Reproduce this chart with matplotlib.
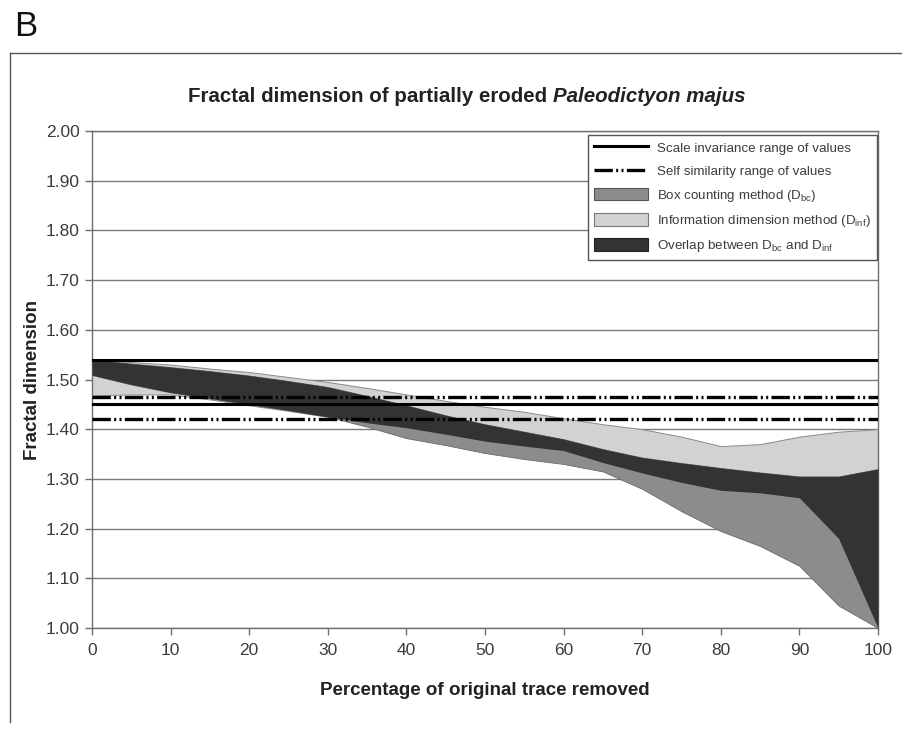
import numpy as np
import matplotlib
matplotlib.use("Agg")
import matplotlib.pyplot as plt
from matplotlib.lines import Line2D
from matplotlib.patches import Patch

# ---------------- data ----------------
pct = [0, 5, 10, 15, 20, 25, 30, 35, 40, 45, 50, 55, 60, 65, 70, 75, 80, 85, 90, 95, 100]

info_upper = [1.540, 1.535, 1.530, 1.522, 1.515, 1.505, 1.495, 1.483, 1.470, 1.457, 1.445,
              1.435, 1.422, 1.410, 1.400, 1.385, 1.366, 1.370, 1.385, 1.395, 1.400]
info_lower = [1.468, 1.470, 1.470, 1.460, 1.448, 1.437, 1.425, 1.413, 1.403, 1.390, 1.376,
              1.366, 1.357, 1.333, 1.312, 1.293, 1.277, 1.272, 1.262, 1.180, 1.000]
box_upper = [1.540, 1.532, 1.525, 1.517, 1.508, 1.497, 1.485, 1.467, 1.448, 1.428, 1.410,
             1.395, 1.380, 1.360, 1.343, 1.332, 1.322, 1.313, 1.305, 1.305, 1.320]
box_lower = [1.509, 1.490, 1.474, 1.462, 1.450, 1.438, 1.425, 1.405, 1.382, 1.368, 1.352,
             1.340, 1.330, 1.315, 1.280, 1.235, 1.195, 1.165, 1.125, 1.045, 1.000]

scale_invariance = [1.54, 1.45]
self_similarity = [1.465, 1.42]

y_ticks = [1.00, 1.10, 1.20, 1.30, 1.40, 1.50, 1.60, 1.70, 1.80, 1.90, 2.00]
x_ticks = [0, 10, 20, 30, 40, 50, 60, 70, 80, 90, 100]

legend_labels = ["Scale invariance range of values",
                 "Self similarity range of values",
                 r"Box counting method (D$_{\mathregular{bc}}$)",
                 r"Information dimension method (D$_{\mathregular{inf}}$)",
                 r"Overlap between D$_{\mathregular{bc}}$ and D$_{\mathregular{inf}}$"]

# ---------------- style ----------------
plt.rcParams['font.family'] = ['Liberation Sans', 'DejaVu Sans']
plt.rcParams['mathtext.fontset'] = 'custom'
plt.rcParams['mathtext.rm'] = 'Liberation Sans'

LIGHT = '#d2d2d2'
MID = '#8c8c8c'
DARK = '#333333'
GRID = '#7a7a7a'
TXT = '#3c3c3c'
dashdotdot = (0, (5.5, 1.0, 0.6, 1.0, 0.6, 1.0))

W, H = 903, 731
fig = plt.figure(figsize=(W / 100, H / 100), dpi=100)
ax = fig.add_axes([92 / W, 1 - 628 / H, (878 - 92) / W, (628 - 131) / H])

x = np.array(pct, dtype=float)
iu, il = np.array(info_upper), np.array(info_lower)
bu, bl = np.array(box_upper), np.array(box_lower)

ax.fill_between(x, il, iu, color=LIGHT, edgecolor='#8a8a8a', linewidth=0.7, zorder=2)
ax.fill_between(x, bl, bu, color=MID, edgecolor='#6a6a6a', linewidth=0.6, zorder=3)
ov_top = np.minimum(iu, bu)
ov_bot = np.maximum(il, bl)
ax.fill_between(x, ov_bot, ov_top, where=ov_top >= ov_bot, interpolate=True,
                color=DARK, linewidth=0, zorder=4)

for v in scale_invariance:
    ax.axhline(v, color='black', lw=2.2, zorder=5)
for v in self_similarity:
    ax.axhline(v, color='black', lw=2.4, linestyle=dashdotdot, zorder=5)

ax.set_xlim(0, 100)
ax.set_ylim(1.0, 2.0)
ax.set_yticks(y_ticks)
ax.set_yticklabels([f"{v:.2f}" for v in y_ticks])
ax.set_xticks(x_ticks)
ax.set_xticklabels([str(v) for v in x_ticks])
ax.yaxis.grid(True, color=GRID, lw=1.0, zorder=1)
ax.set_axisbelow(True)
for s in ax.spines.values():
    s.set_color('#6e6e6e')
    s.set_linewidth(1.0)
ax.tick_params(axis='both', colors='#6e6e6e', labelcolor=TXT, labelsize=12.5,
               length=5, width=1, direction='out')
ax.tick_params(axis='x', pad=6)
ax.tick_params(axis='y', pad=4)

ax.set_ylabel("Fractal dimension", fontsize=13.5, fontweight='bold', color='#222222', labelpad=3)
ax.set_xlabel("Percentage of original trace removed", fontsize=13.5, fontweight='bold',
              color='#222222', labelpad=17)

# legend
handles = [Line2D([], [], color='black', lw=2.2),
           Line2D([], [], color='black', lw=2.4, linestyle=dashdotdot),
           Patch(facecolor=MID, edgecolor='#555555', lw=0.8),
           Patch(facecolor=LIGHT, edgecolor='#777777', lw=0.8),
           Patch(facecolor=DARK, edgecolor='#222222', lw=0.8)]
leg = ax.legend(handles, legend_labels, loc='upper right', bbox_to_anchor=(0.9985, 0.992),
                borderaxespad=0, fontsize=9.6, handlelength=4.0, handleheight=1.1,
                labelspacing=0.7, handletextpad=0.7, borderpad=0.45, fancybox=False,
                framealpha=1, edgecolor='#555555', labelcolor=TXT)
leg.get_frame().set_linewidth(1.0)
leg.set_zorder(10)

# title (mixed roman / italic), centred as a whole
TFS = 14.8
t1 = fig.text(0, 1 - 96 / H, "Fractal dimension of partially eroded ",
              fontsize=TFS, fontweight='bold', color='#222222', ha='left', va='center')
t2 = fig.text(0, 1 - 96 / H, "Paleodictyon majus",
              fontsize=TFS, fontweight='bold', fontstyle='italic', color='#222222',
              ha='left', va='center')
fig.canvas.draw()
r = fig.canvas.get_renderer()
w1 = t1.get_window_extent(r).width
w2 = t2.get_window_extent(r).width
x0 = 467 - (w1 + w2) / 2
t1.set_x(x0 / W)
t2.set_x((x0 + w1) / W)

# panel letter
fig.text(14 / W, 1 - 27 / H, "B", fontsize=25, color='#111111', ha='left', va='center')

# outer frame lines
fig.add_artist(Line2D([10 / W, 10 / W], [1 - 53 / H, 1 - 722 / H], transform=fig.transFigure,
                      color='#555555', lw=1.0))
fig.add_artist(Line2D([10 / W, 1.0], [1 - 53 / H, 1 - 53 / H], transform=fig.transFigure,
                      color='#555555', lw=1.0))

fig.savefig("out.png", dpi=100)
